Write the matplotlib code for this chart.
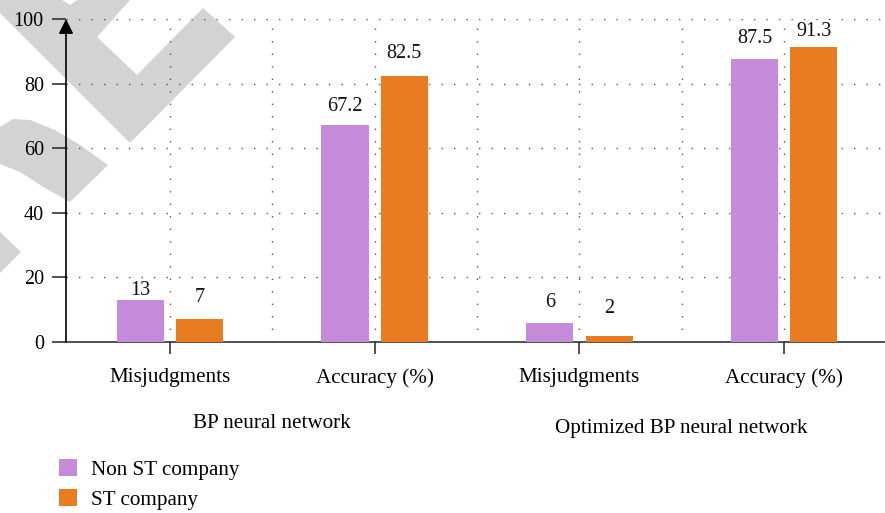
import matplotlib
matplotlib.use('Agg')
import matplotlib.pyplot as plt
import matplotlib.transforms as mtransforms
from matplotlib.patches import Polygon
import numpy as np

# data
categories = ['Misjudgments', 'Accuracy (%)', 'Misjudgments', 'Accuracy (%)']
groups = ['BP neural network', 'Optimized BP neural network']
series_names = ['Non ST company', 'ST company']
non_st = [13, 67.2, 6, 87.5]
st = [7, 82.5, 2, 91.3]

purple = '#c58ad9'
orange = '#e97b20'

plt.rcParams['font.family'] = ['Liberation Serif', 'DejaVu Serif']
plt.rcParams['font.size'] = 15.2
num_size = 14.5

W, H = 885, 513
fig = plt.figure(figsize=(W / 100, H / 100), dpi=100)

def fy(py):
    # pixel row (from top) -> figure fraction
    return 1 - py / H

# grey stamp shapes in the upper left corner
stamp = [
    [(0, 0), (62, 0), (70, 5), (77, 0), (130, 0), (97, 37), (137, 75), (203, 8),
     (235, 37), (130, 143), (0, 13)],
    [(0, 127), (13, 119), (30, 120), (55, 130), (80, 145), (108, 165), (70, 202),
     (45, 188), (20, 172), (0, 164)],
    [(0, 232), (21, 252), (0, 273)],
]
for pts in stamp:
    fig.patches.append(Polygon([(px / W, fy(py)) for px, py in pts], closed=True,
                               transform=fig.transFigure, facecolor='#d3d3d3',
                               edgecolor='none', zorder=-1))

ax = fig.add_axes([66 / W, fy(342), (W - 66) / W, (342 - 19) / H])
ax.patch.set_alpha(0)

x = np.arange(len(categories))
w = 0.23
off = 0.145
b1 = ax.bar(x - off, non_st, w, color=purple, label=series_names[0], zorder=3)
b2 = ax.bar(x + off, st, w, color=orange, label=series_names[1], zorder=3)

ax.set_xlim(-0.508, 3.493)
ax.set_ylim(0, 100)

# dotted grid
dots = (0, (1, 8))
for yv in range(20, 101, 20):
    ax.axhline(yv, color='#555555', lw=1.0, ls=dots, zorder=1)
for xv in np.arange(0, 3.01, 0.5):
    ax.axvline(xv, color='#555555', lw=1.0, ls=dots, zorder=1)

# value labels (pixel gap above each bar)
gap1 = [5, 14, 16, 16]
gap2 = [17, 18, 23, 11]
for bars, vals, gaps in [(b1, non_st, gap1), (b2, st, gap2)]:
    for r, v, g in zip(bars, vals, gaps):
        ax.annotate(f'{v:g}', (r.get_x() + r.get_width() / 2, v),
                    xytext=(0, g * 0.72), textcoords='offset points',
                    ha='center', va='baseline', color='#111111', fontsize=num_size)

for s in ['top', 'right', 'left']:
    ax.spines[s].set_visible(False)
ax.spines['bottom'].set_color('#333333')
ax.spines['bottom'].set_linewidth(1.2)

# y axis with arrow head
ax.annotate('', xy=(0, 1), xytext=(0, 0), xycoords='axes fraction',
            arrowprops=dict(arrowstyle='-|>', color='black', lw=1.2,
                            mutation_scale=22, shrinkA=0, shrinkB=0))

ax.set_yticks(range(0, 101, 20))
ax.tick_params(axis='y', length=10, width=1.2, color='#333333', pad=6,
               labelsize=num_size)
ax.set_xticks(x, categories)
ax.tick_params(axis='x', length=8.6, width=1.2, color='#333333', pad=10)

trans = mtransforms.blended_transform_factory(ax.transData, fig.transFigure)
ax.text(0.5, fy(424), groups[0], transform=trans, ha='center', va='center')
ax.text(2.5, fy(429), groups[1], transform=trans, ha='center', va='center')

fig.legend(handles=[b1, b2], loc='upper left', bbox_to_anchor=(59 / W, fy(459)),
           frameon=False, handlelength=0.85, handleheight=0.85, handletextpad=0.65,
           labelspacing=0.45, borderaxespad=0, borderpad=0)

fig.savefig('out.png', dpi=100)
